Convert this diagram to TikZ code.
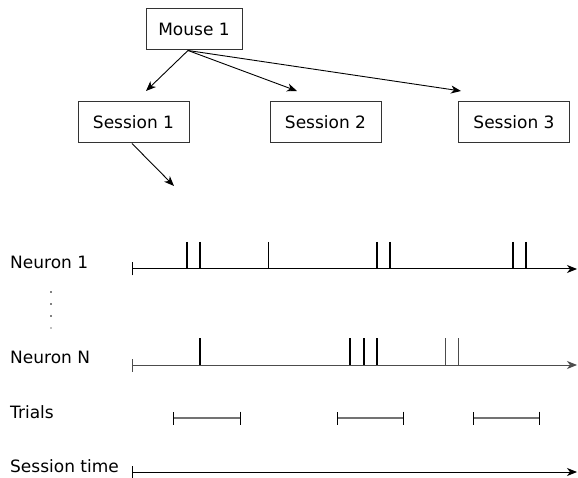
\documentclass[tikz,border=0pt]{standalone}
\usepackage{fontspec}
\setmainfont{DejaVu Sans}
\usetikzlibrary{arrows.meta,positioning}

\begin{document}
\begin{tikzpicture}[x=1pt,y=-1pt,>={Stealth[length=10pt,width=8pt,inset=3pt]},font=\fontsize{17}{20}\selectfont,
  box/.style={draw=black!80,line width=1pt,minimum width=111pt,minimum height=41pt,inner sep=0pt},
  link/.style={->,line width=0.9pt},
  axis/.style={{Bar[width=13pt,line width=1pt]}->,line width=1pt},
  spike/.style={line width=2.8pt},
  thinspike/.style={line width=1pt},
  trial/.style={{Bar[width=13pt,line width=1pt,black]}-{Bar[width=13pt,line width=1pt,black]},draw=black!55,line width=1.8pt},
  lbl/.style={anchor=base west,inner sep=0pt},
  dot/.style={circle,fill,inner sep=0pt,minimum size=1.8pt}]
\useasboundingbox (0,0) rectangle (578,478);
\node[box,minimum width=96pt] (mouse) at (194,29.5) {Mouse 1};
\node[box] (s1) at (133.5,122.5) {Session 1};
\node[box] (s2) at (325.5,122.5) {Session 2};
\node[box] (s3) at (514,122.5) {Session 3};
\coordinate (e1) at (146,91);
\coordinate (e2) at (297,91);
\coordinate (e3) at (461,91);
\coordinate (e4) at (174,186);
\draw[link] ([xshift=-6pt]mouse.south) -- (e1);
\draw[link] ([xshift=-6pt]mouse.south) -- (e2);
\draw[link] ([xshift=-6pt]mouse.south) -- (e3);
\draw[link] ([xshift=-1.5pt]s1.south) -- (e4);
\node[lbl] (n1) at (10,269) {Neuron 1};
\node[lbl] (nN) at (10,363) {Neuron N};
\node[lbl] (tr) at (10,418) {Trials};
\node[lbl] (st) at (10,472) {Session time};
\node[dot] (d1) at (51,292) {};
\node[dot] (d2) at (51,304) {};
\node[dot] (d3) at (51,316) {};
\node[dot,black!50] (d4) at (51,328) {};
\coordinate (a1) at (132,269);
\coordinate (b1) at (577,269);
\coordinate (aN) at (132,365);
\coordinate (bN) at (577,365);
\coordinate (as) at (132,472);
\coordinate (bs) at (577,472);
\draw[axis] (a1) -- (b1);
\draw[axis,black!70] (aN) -- (bN);
\draw[axis] (as) -- (bs);
\draw[spike] (187,242) -- (187,269);
\draw[spike] (200,242) -- (200,269);
\draw[thinspike] (268,242) -- (268,269);
\draw[spike] (377,242) -- (377,269);
\draw[spike] (390,242) -- (390,269);
\draw[spike] (513,242) -- (513,269);
\draw[spike] (526,242) -- (526,269);
\draw[spike] (200,338) -- (200,365);
\draw[spike] (350,338) -- (350,365);
\draw[spike] (364,338) -- (364,365);
\draw[spike] (377,338) -- (377,365);
\draw[thinspike,black!70] (445,338) -- (445,365);
\draw[thinspike,black!70] (458,338) -- (458,365);
\draw[trial] (173,418) -- (241,418);
\draw[trial] (337,418) -- (404,418);
\draw[trial] (473,418) -- (540,418);
\end{tikzpicture}
\end{document}
